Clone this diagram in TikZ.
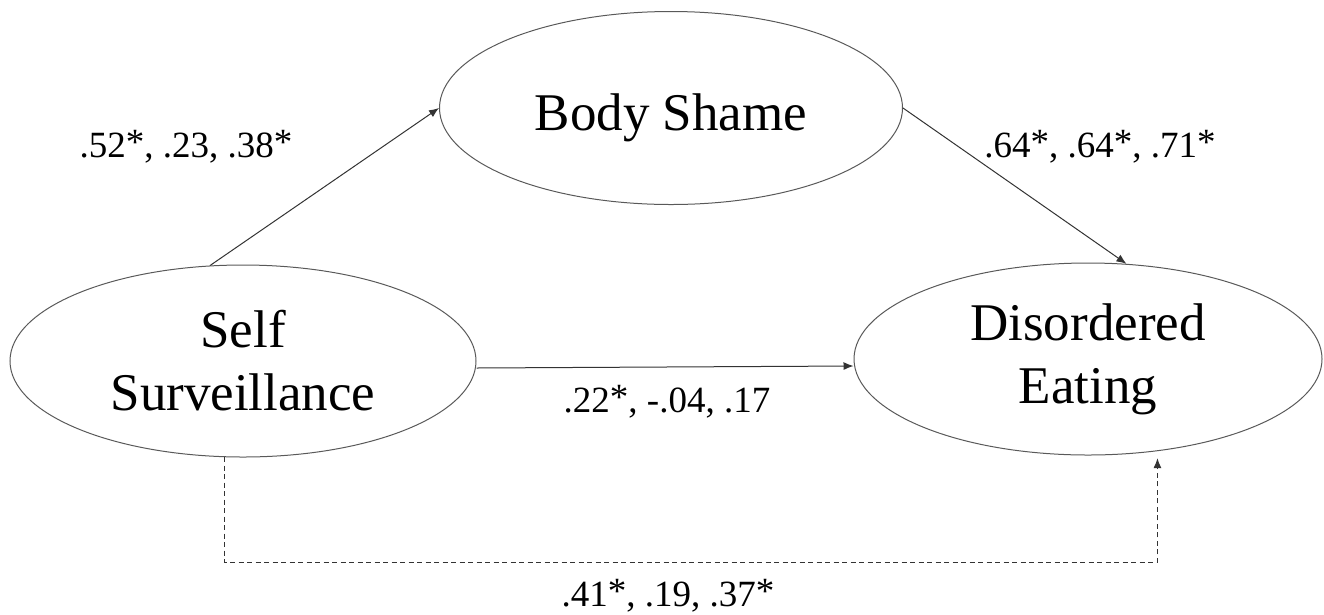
\documentclass[tikz,border=0pt]{standalone}
\usepackage{fontspec}
\setmainfont{Liberation Serif}
\usetikzlibrary{shapes.geometric,arrows.meta}
\newcommand{\sigstar}{\raisebox{2.5pt}{*}}
\begin{document}
\begin{tikzpicture}[x=1pt,y=-1pt,
  latent/.style={ellipse,draw=black!65,line width=1pt,inner sep=0pt,align=center,
    font=\fontsize{53}{63}\selectfont},
  pathline/.style={draw=black!80,line width=1pt,-{Latex[length=10pt,width=8pt]}},
  dashline/.style={pathline,dash pattern=on 5pt off 3.5pt},
  coef/.style={font=\fontsize{37}{44}\selectfont,anchor=base,inner sep=0pt}]
\useasboundingbox (0,0) rectangle (1324,614);
\node[latent,minimum width=466pt,minimum height=192pt] (ss) at (243,361) {Self\\Surveillance};
\node[latent,minimum width=463pt,minimum height=193pt,text height=56pt,text depth=12pt] (bs) at (671,108) {Body Shame};
\node[latent,minimum width=468pt,minimum height=192pt] (de) at (1088,359) {Disordered\\Eating};
\coordinate (dashy) at (0,562);
\draw[pathline] (ss.109) -- (bs.west);
\draw[pathline] (bs.east) -- (de.68);
\draw[pathline] ([yshift=-7pt]ss.east) -- ([yshift=-7pt]de.west);
\draw[dashline,shorten >=7pt] (ss.259) -- (ss.259 |- dashy) -| (de.-53);
\node[coef] (l1) at (186,157) {.52\sigstar, .23, .38\sigstar};
\node[coef] (l2) at (1100,157) {.64\sigstar, .64\sigstar, .71\sigstar};
\node[coef] (l3) at (667,412) {.22\sigstar, -.04, .17};
\node[coef] (l4) at (668,606) {.41\sigstar, .19, .37\sigstar};
\end{tikzpicture}
\end{document}
